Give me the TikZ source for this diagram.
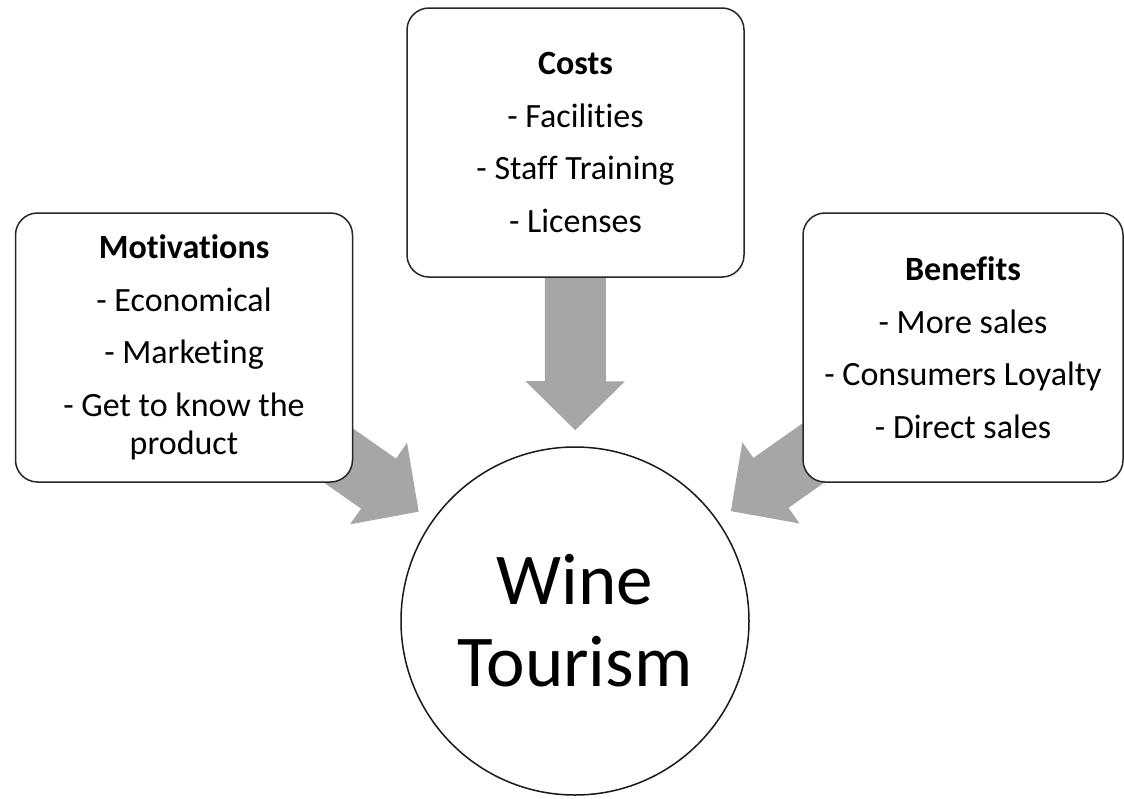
\documentclass[tikz,border=0pt]{standalone}
\usepackage{fontspec}
\setmainfont{Carlito}[Ligatures=NoCommon]
\usepackage{tikz}
\usetikzlibrary{arrows.meta,backgrounds,positioning}
\tikzset
{
    infobox/.style  = {rectangle, rounded corners=22pt, draw=black!85, line width=1.5pt, fill=white, align=center, minimum width=337pt, minimum height=269pt, font=\fontsize{34}{38}\selectfont},
    hubnode/.style  = {circle, draw=black!90, line width=1.5pt, fill=white, align=center, minimum size=348pt, inner sep=0pt, font=\fontsize{73}{82}\selectfont},
    bigarrow/.style = {line width=61pt, draw=black!35, -{Triangle[width=99pt, length=49pt, line width=2pt]}, shorten >=16pt}
}

\begin{document}
\begin{tikzpicture}[x=1pt, y=-1pt]
    \useasboundingbox (0,0) rectangle (1124,798);
    \node [hubnode] (wine) at (575,621) {Wine\\Tourism};
    \node [infobox] (costs) at (575.5,142.5) {\textbf{Costs}\\[14.5pt] - Facilities\\[14.5pt] - Staff Training\\[14.5pt] - Licenses};
    \node [infobox] (motiv) at (184,347.5) {\textbf{Motivations}\\[14.5pt] - Economical\\[14.5pt] - Marketing\\[14.5pt] - Get to know the\\ product};
    \node [infobox, minimum width=320pt] (benef) at (963,347.5) {\textbf{Benefits}\\[14.5pt] - More sales\\[14.5pt] - Consumers Loyalty\\[14.5pt] - Direct sales};
    \begin{scope}[on background layer]
        \draw [bigarrow] (costs.center) -- (wine);
        \draw [bigarrow] (motiv.center) -- (wine);
        \draw [bigarrow] (benef.center) -- (wine);
    \end{scope}
\end{tikzpicture}
\end{document}
